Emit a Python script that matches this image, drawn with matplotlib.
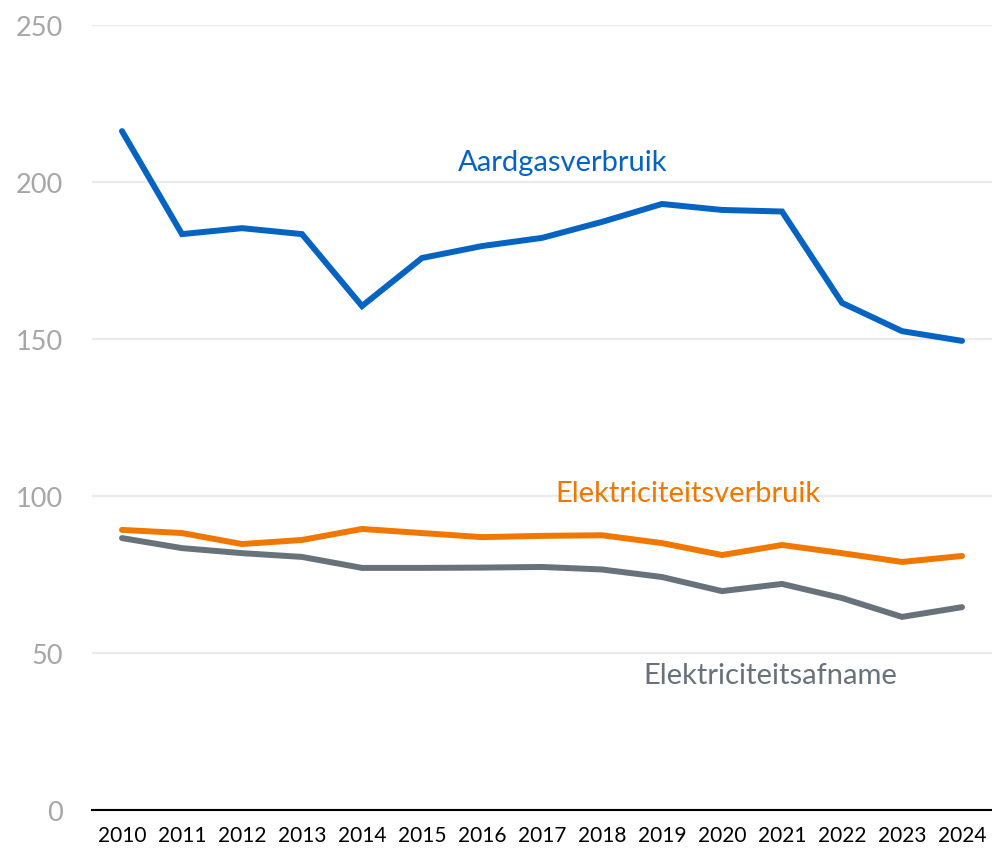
import matplotlib
matplotlib.use("Agg")
import matplotlib.pyplot as plt

years = ["2010", "2011", "2012", "2013", "2014", "2015", "2016", "2017",
         "2018", "2019", "2020", "2021", "2022", "2023", "2024"]
aardgasverbruik = [216.2, 183.4, 185.3, 183.4, 160.5, 175.8, 179.6, 182.2,
                   187.3, 193.0, 191.1, 190.6, 161.5, 152.5, 149.4]
elektriciteitsverbruik = [89.2, 88.2, 84.7, 86.0, 89.5, 88.2, 86.9, 87.3,
                          87.5, 85.0, 81.2, 84.4, 81.8, 79.0, 80.9]
elektriciteitsafname = [86.6, 83.4, 81.8, 80.6, 77.1, 77.1, 77.2, 77.4,
                        76.6, 74.2, 69.7, 72.0, 67.5, 61.5, 64.6]
yticks = [0, 50, 100, 150, 200, 250]

plt.rcParams['font.family'] = ['Lato', 'DejaVu Sans']

BLUE = '#0563C1'
ORANGE = '#F07800'
GRAY = '#68727B'

fig = plt.figure(figsize=(9.92, 8.54), dpi=100)
ax = fig.add_axes([92/992, 43/854, 900/992, 785/854])

x = list(range(len(years)))
ax.plot(x, aardgasverbruik, color=BLUE, lw=4.3, solid_capstyle='round', solid_joinstyle='miter', zorder=3)
ax.plot(x, elektriciteitsverbruik, color=ORANGE, lw=4.3, solid_capstyle='round', solid_joinstyle='miter', zorder=3)
ax.plot(x, elektriciteitsafname, color=GRAY, lw=4.3, solid_capstyle='round', solid_joinstyle='miter', zorder=3)

ax.set_xlim(-0.5, len(years) - 0.5)
ax.set_ylim(0, 250)
ax.set_yticks(yticks)
ax.set_yticklabels([str(v) for v in yticks], fontsize=19.5, color='#A6A6A6')
ax.set_xticks(x)
ax.set_xticklabels(years, fontsize=15, color='#000000')
ax.tick_params(axis='y', length=0, pad=21)
ax.tick_params(axis='x', length=0, pad=11)

ax.grid(axis='y', color='#EBEBEB', lw=1.6, zorder=0)
for s in ['left', 'right', 'top']:
    ax.spines[s].set_visible(False)
ax.spines['bottom'].set_color('#000000')
ax.spines['bottom'].set_linewidth(1.5)
ax.spines['bottom'].set_zorder(4)

ax.text(7.35, 206.5, "Aardgasverbruik", color=BLUE, fontsize=21, ha='center', va='center')
ax.text(9.44, 101, "Elektriciteitsverbruik", color=ORANGE, fontsize=21, ha='center', va='center')
ax.text(10.8, 43, "Elektriciteitsafname", color=GRAY, fontsize=21, ha='center', va='center')

fig.savefig("out.png", dpi=100)
